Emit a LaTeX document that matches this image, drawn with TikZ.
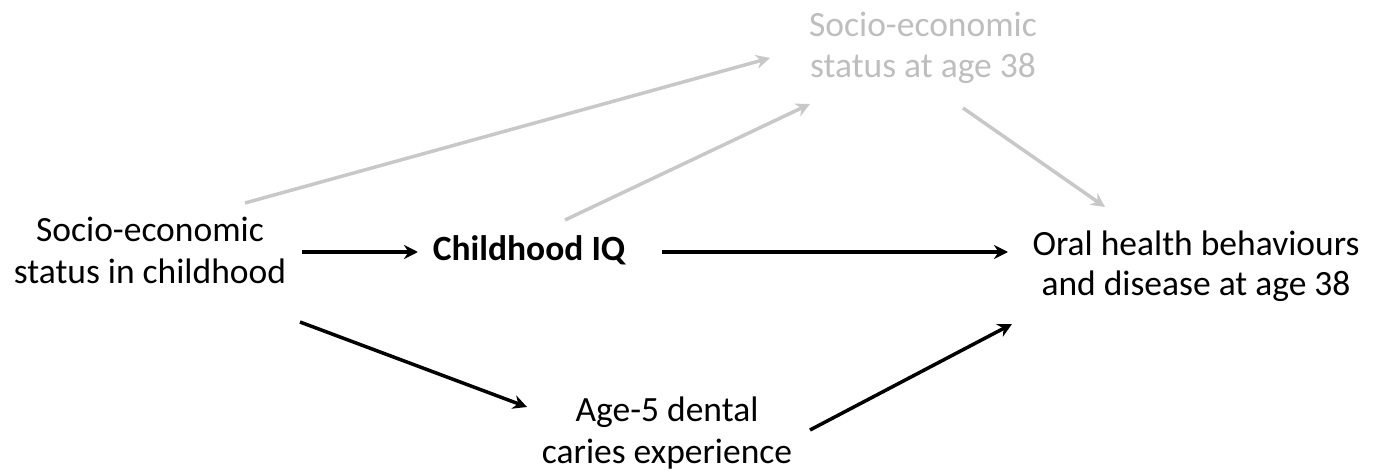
\documentclass[tikz,border=0pt]{standalone}
\usepackage{fontspec}
\setmainfont{Carlito}
\usetikzlibrary{arrows.meta}
\definecolor{lightg}{RGB}{200,200,200}
\definecolor{textg}{RGB}{190,190,190}
\tikzset{
  lbl/.style={align=center, inner sep=0pt, anchor=base, font=\fontsize{35.5}{42}\selectfont},
  blk/.style={draw=black, line width=3.5pt, -{Stealth[length=14pt,width=14pt]}},
  gry/.style={draw=lightg, line width=3.5pt, -{Stealth[length=14pt,width=14pt]}}
}
\begin{document}
\begin{tikzpicture}[x=1pt,y=1pt]
\useasboundingbox (0,0) rectangle (1377,-476);
\node[lbl] (A) at (150,-283) {Socio-economic\\status in childhood};
\node[lbl, font=\fontsize{35.5}{42}\selectfont\bfseries] (B) at (529,-260) {Childhood IQ};
\node[lbl, font=\fontsize{35.5}{40}\selectfont] (C) at (1196,-295) {Oral health behaviours\\and disease at age 38};
\node[lbl, text=textg, font=\fontsize{35.5}{41}\selectfont] (D) at (923,-78) {Socio-economic\\status at age 38};
\node[lbl] (E) at (667,-463) {Age-5 dental\\caries experience};
\draw[blk] ([shift={(152,31)}]A.base) -- ([shift={(-111,8)}]B.base);
\draw[blk] ([shift={(133,8)}]B.base) -- ([shift={(-188,43)}]C.base);
\draw[blk] ([shift={(150,-39)}]A.base) -- ([shift={(-140,56)}]E.base);
\draw[blk] ([shift={(143,33)}]E.base) -- ([shift={(-184,-29)}]C.base);
\draw[gry] ([shift={(95,80)}]A.base) -- ([shift={(-153,20)}]D.base);
\draw[gry] ([shift={(36,40)}]B.base) -- ([shift={(-113,-26)}]D.base);
\draw[gry] ([shift={(40,-30)}]D.base) -- ([shift={(-91,88)}]C.base);
\end{tikzpicture}
\end{document}
